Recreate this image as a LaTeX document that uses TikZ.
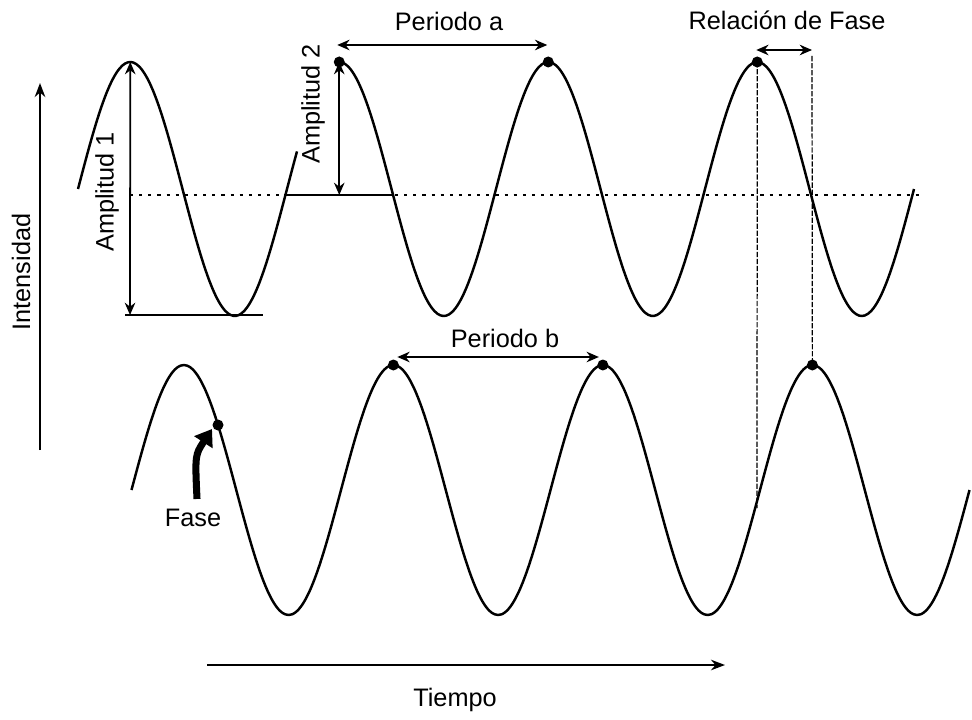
\documentclass[tikz,border=0pt]{standalone}
\usepackage{fontspec}
\setmainfont{Liberation Sans}
\usetikzlibrary{arrows.meta,positioning,calc}

\begin{document}
\begin{tikzpicture}[
    x=0.02cm, y=-0.02cm,
    wave/.style={line width=1.4pt, line join=round},
    dimline/.style={line width=1pt, {Stealth[length=7pt,width=6pt]}-{Stealth[length=7pt,width=6pt]}},
    axisline/.style={line width=1.2pt, -{Stealth[length=8pt,width=6pt]}},
    zeroline/.style={line width=1.6pt, dash pattern=on 1.8pt off 3.4pt},
    guide/.style={line width=0.7pt, dash pattern=on 3pt off 1pt},
    dot/.style={circle, fill, inner sep=0pt, minimum size=2.2mm},
    lbl/.style={font=\Large}
]
\useasboundingbox (0,0) rectangle (972,719);

% Peaks of both waves
\foreach \k in {1,...,4} {
  \coordinate (peakA\k) at ({78+209*(\k-0.75)},62);
  \coordinate (peakB\k) at ({131.5+209.5*(\k-0.75)},365);
}

% Waves (upper one broken behind the Amplitud 2 label)
\draw[wave] plot[domain=78:297, samples=80, smooth] (\x,{189-127*sin((\x-78)/209*360)});
\draw[wave] plot[domain=339.25:914, samples=200, smooth] (\x,{189-127*sin((\x-78)/209*360)});
\draw[wave] plot[domain=131.5:969.5, samples=241, smooth] (\x,{490-125*sin((\x-131.5)/209.5*360)});

% Zero line
\coordinate (zeroLeft) at (130,195);
\coordinate (zeroRight) at (919,195);
\draw[zeroline] (zeroLeft) -- (zeroRight);
\draw[line width=1.2pt] (284,195) -- (393,195);

% Dots
\foreach \k in {2,3,4} {
  \node[dot] (dotA\k) at (peakA\k) {};
  \node[dot] (dotB\k) at (peakB\k) {};
}
\node[dot] (faseDot) at (218,425) {};

% Axes
\coordinate (intBottom) at (40,450);
\coordinate (intTop) at (40,83);
\draw[axisline] (intBottom) -- (intTop);
\node[lbl, rotate=90] (intensidad) at (21,272) {Intensidad};

\coordinate (timeLeft) at (207,665);
\coordinate (timeRight) at (725,665);
\draw[axisline] (timeLeft) -- (timeRight);
\node[lbl] (tiempo) at (455,700) {Tiempo};

% Amplitud 1
\coordinate (ampOneBottom) at (130,315);
\coordinate (troughLeft) at (125,315);
\coordinate (troughRight) at (263,315);
\draw[dimline] (peakA1) -- (ampOneBottom);
\draw[line width=1.2pt] (troughLeft) -- (troughRight);
\node[lbl, rotate=90] (amplitudOne) at (107,192) {Amplitud 1};

% Amplitud 2
\draw[dimline] (dotA2.center) -- (dotA2 |- zeroLeft);
\node[lbl, rotate=90] (amplitudTwo) at (313,104) {Amplitud 2};

% Periodo a
\coordinate (perALeft) at ($(peakA2)+(-2,-17)$);
\coordinate (perARight) at ($(peakA3)+(-1,-17)$);
\draw[dimline] (perALeft) -- (perARight);
\node[lbl] (periodoA) at (449,21) {Periodo a};

% Relacion de Fase
\coordinate (relRight) at (812,50);
\draw[dimline] ($(peakA4)+(-1,-12)$) -- (relRight);
\node[lbl] (relacion) at (787,20) {Relación de Fase};
\draw[guide] (dotA4.center) -- (757,508);
\draw[guide] ($(relRight)+(0,6)$) -- (dotB4.center);

% Periodo b
\coordinate (perBLeft) at ($(peakB2)+(4,-8)$);
\coordinate (perBRight) at ($(peakB3)+(-4,-8)$);
\draw[dimline] (perBLeft) -- (perBRight);
\node[lbl] (periodoB) at (505,338) {Periodo b};

% Fase
\node[lbl] (fase) at (193,518) {Fase};
\draw[line width=4pt, -{Triangle[length=9pt,width=12pt]}]
  ($(fase.north)+(4,-4)$) .. controls (195,455) .. ($(faseDot)+(-6,4)$);

\end{tikzpicture}
\end{document}
